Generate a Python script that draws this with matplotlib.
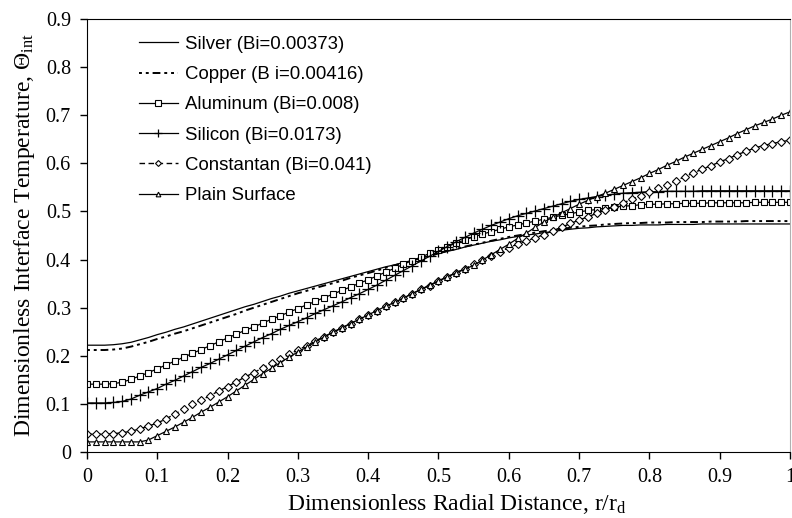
import numpy as np
import matplotlib
matplotlib.use("Agg")
import matplotlib.pyplot as plt

plt.rcParams['font.family'] = ['Liberation Serif', 'DejaVu Serif']
plt.rcParams['mathtext.fontset'] = 'custom'
plt.rcParams['mathtext.rm'] = 'Liberation Serif'
plt.rcParams['mathtext.it'] = 'Liberation Serif:italic'

# radial positions of the computed points, step 0.0125
r = np.arange(81) * 0.0125

silver = [.222, .222, .222, .223, .225, .228, .233, .238,
          .244, .249, .255, .260, .266, .272, .278, .284,
          .290, .296, .302, .307, .313, .319, .324, .330,
          .335, .340, .345, .350, .355, .360, .365, .370,
          .375, .380, .385, .389, .394, .398, .403, .407,
          .412, .417, .421, .426, .430, .434, .438, .441,
          .445, .448, .451, .453, .456, .458, .461, .463,
          .465, .466, .468, .469, .470, .471, .471, .472,
          .472, .472, .473, .473, .473, .473, .474, .474,
          .474, .474, .474, .474, .474, .474, .474, .474,
          .474]

copper = [.212, .212, .212, .213, .215, .219, .224, .229,
          .235, .240, .246, .251, .257, .263, .269, .275,
          .281, .287, .294, .300, .306, .312, .318, .324,
          .330, .335, .341, .346, .351, .356, .362, .367,
          .372, .377, .383, .388, .393, .398, .403, .408,
          .413, .418, .422, .427, .431, .435, .439, .443,
          .447, .450, .453, .456, .459, .461, .464, .466,
          .468, .470, .471, .473, .474, .475, .476, .476,
          .477, .477, .477, .478, .478, .478, .478, .479,
          .479, .479, .479, .480, .480, .480, .480, .480,
          .480]

aluminum = [.141, .141, .141, .142, .145, .151, .158, .165,
            .173, .181, .189, .197, .205, .213, .221, .229,
            .237, .245, .253, .260, .268, .276, .283, .291,
            .298, .306, .313, .321, .328, .336, .343, .351,
            .358, .366, .374, .382, .390, .398, .405, .413,
            .420, .427, .434, .441, .447, .453, .458, .463,
            .468, .472, .476, .480, .484, .488, .492, .495,
            .499, .502, .504, .507, .509, .511, .512, .514,
            .515, .515, .516, .516, .517, .517, .517, .518,
            .518, .518, .518, .518, .519, .519, .519, .519,
            .519]

silicon = [.102, .102, .102, .103, .105, .110, .118, .125,
           .132, .141, .149, .158, .167, .176, .184, .193,
           .202, .211, .220, .229, .238, .246, .255, .263,
           .271, .279, .288, .296, .304, .312, .321, .329,
           .338, .347, .357, .367, .377, .387, .397, .407,
           .417, .427, .437, .446, .455, .463, .471, .478,
           .485, .491, .496, .501, .506, .511, .516, .521,
           .525, .528, .531, .534, .536, .538, .539, .540,
           .541, .541, .542, .542, .542, .542, .543, .543,
           .543, .543, .543, .543, .543, .543, .543, .543,
           .543]

constantan = [.037, .037, .037, .038, .040, .043, .048, .054,
              .060, .069, .079, .089, .099, .108, .117, .127,
              .136, .146, .156, .165, .175, .184, .193, .203,
              .212, .221, .231, .240, .249, .258, .267, .276,
              .285, .294, .303, .311, .320, .329, .338, .346,
              .355, .364, .373, .381, .390, .399, .408, .416,
              .425, .432, .439, .445, .452, .460, .467, .475,
              .482, .489, .496, .503, .510, .518, .525, .533,
              .540, .548, .556, .564, .572, .580, .588, .595,
              .603, .610, .618, .625, .632, .637, .641, .645,
              .648]

plain = [.021, .021, .021, .021, .021, .021, .021, .025,
         .034, .043, .052, .062, .072, .083, .093, .104,
         .115, .127, .139, .151, .163, .174, .186, .197,
         .208, .218, .229, .239, .249, .258, .267, .276,
         .285, .294, .303, .311, .320, .329, .338, .347,
         .356, .364, .372, .380, .388, .399, .410, .421,
         .432, .444, .455, .467, .478, .488, .497, .506,
         .515, .523, .531, .538, .546, .554, .562, .570,
         .579, .587, .596, .604, .613, .621, .629, .637,
         .645, .653, .662, .670, .678, .685, .692, .700,
         .707]

labels = ['Silver (Bi=0.00373)', 'Copper (B i=0.00416)', 'Aluminum (Bi=0.008)',
          'Silicon (Bi=0.0173)', 'Constantan (Bi=0.041)', 'Plain Surface']

fig = plt.figure(figsize=(7.92, 5.18), dpi=100)
ax = fig.add_axes([0.1098, 0.1274, 0.8877, 0.8359])

ax.plot(r, silver, color='black', lw=0.9, label=labels[0])
ax.plot(r, copper, color='black', lw=1.4, ls=(0, (1.5, 2, 1.5, 2, 4, 2)), label=labels[1])
ax.plot(r, aluminum, color='black', lw=0.9, marker='s', ms=5, mfc='white', mew=0.8, label=labels[2])
ax.plot(r, silicon, color='black', lw=0.9, marker='+', ms=8, mew=0.9, label=labels[3])
ax.plot(r, constantan, color='black', lw=1.0, ls=(0, (4, 2.5)), marker='D', ms=4,
        mfc='white', mew=0.8, label=labels[4])
ax.plot(r, plain, color='black', lw=0.9, marker='^', ms=4.5, mfc='white', mew=0.8, label=labels[5])

ax.set_xlim(0, 1)
ax.set_ylim(0, 0.9)
ax.set_xticks([0, 0.1, 0.2, 0.3, 0.4, 0.5, 0.6, 0.7, 0.8, 0.9, 1])
ax.set_xticklabels(['0', '0.1', '0.2', '0.3', '0.4', '0.5', '0.6', '0.7', '0.8', '0.9', '1'])
ax.set_yticks([0, 0.1, 0.2, 0.3, 0.4, 0.5, 0.6, 0.7, 0.8, 0.9])
ax.set_yticklabels(['0', '0.1', '0.2', '0.3', '0.4', '0.5', '0.6', '0.7', '0.8', '0.9'])
ax.tick_params(direction='out', length=5, width=1, labelsize=14.5, pad=6.5)
ax.spines['right'].set_color('#b0b0b0')

ax.set_xlabel('Dimensionless Radial Distance, r/r$_{\\mathrm{d}}$', fontsize=17)
ax.xaxis.set_label_coords(0.526, -0.093)
ax.set_ylabel('Dimensionless Interface Temperature, $\\Theta_{\\mathrm{int}}$', fontsize=17, labelpad=6)

leg = ax.legend(loc='upper left', bbox_to_anchor=(0.063, 0.978), frameon=False,
                prop={'family': 'Liberation Sans', 'size': 13.4}, borderaxespad=0,
                handlelength=2.1, handletextpad=0.38, labelspacing=0.71, markerscale=0.75)

fig.savefig('out.png', dpi=100)
